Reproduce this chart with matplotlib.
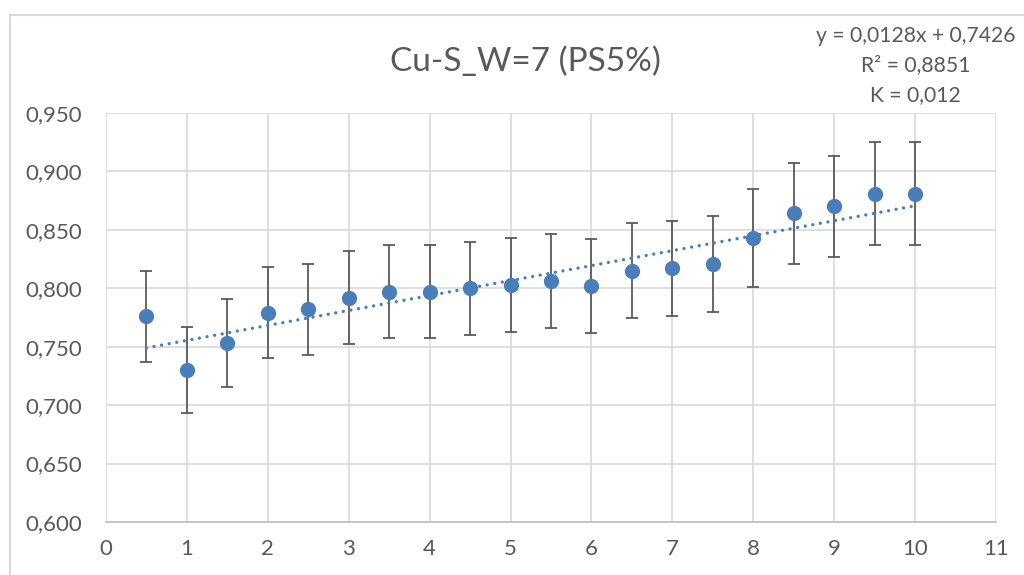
import numpy as np
import matplotlib.pyplot as plt
from matplotlib.patches import Rectangle
from matplotlib.ticker import FuncFormatter

plt.rcParams['font.family'] = ['Lato', 'DejaVu Sans']

# measured points (PS5%)
x = [0.5, 1, 1.5, 2, 2.5, 3, 3.5, 4, 4.5, 5, 5.5, 6, 6.5, 7, 7.5, 8, 8.5, 9, 9.5, 10]
y = [0.776, 0.730, 0.753, 0.779, 0.782, 0.792, 0.797, 0.797, 0.800, 0.803,
     0.806, 0.802, 0.815, 0.817, 0.821, 0.843, 0.864, 0.870, 0.881, 0.881]
err_pct = 0.05  # percentage error bars

# linear trendline
slope = 0.0128
intercept = 0.7426
r2 = 0.8851
K = 0.012

title = 'Cu-S_W=7 (PS5%)'
txtc = '#595959'
blue = '#4a7ebb'
gridc = '#d9d9d9'

x = np.array(x)
y = np.array(y)

fig = plt.figure(figsize=(10.24, 5.75), dpi=100)
ax = fig.add_axes([0.1035, 0.0922, 0.8692, 0.7113])

ax.errorbar(x, y, yerr=y * err_pct, fmt='none', ecolor='#5a5a5a',
            elinewidth=1.3, capsize=4.5, capthick=1.3, zorder=3)
xt = np.array([x.min(), x.max()])
ax.plot(xt, slope * xt + intercept, color=blue, lw=2.4,
        linestyle=(0, (0.01, 2.3)), dash_capstyle='round', zorder=4)
ax.plot(x, y, 'o', color=blue, ms=11, markeredgewidth=0, zorder=5)

ax.set_xlim(0, 11)
ax.set_ylim(0.6, 0.95)
ax.set_xticks(range(0, 12))
ax.set_yticks(np.arange(0.6, 0.951, 0.05))
ax.yaxis.set_major_formatter(FuncFormatter(lambda v, p: f'{v:.3f}'.replace('.', ',')))
ax.grid(True, color=gridc, lw=1.2)
ax.set_axisbelow(True)
for s in ['top', 'right', 'left']:
    ax.spines[s].set_visible(False)
ax.spines['bottom'].set_color('#bfbfbf')
ax.spines['bottom'].set_linewidth(1.2)
ax.tick_params(length=0, labelsize=16, labelcolor=txtc, pad=12.5)
ax.tick_params(axis='y', pad=17.5)

fig.text(0.513, 0.893, title, ha='center', va='center', fontsize=24, color=txtc)
eq = (f'y = {slope:.4f}x + {intercept:.4f}'.replace('.', ',') + '\n'
      + f'R² = {r2:.4f}'.replace('.', ',') + '\n'
      + f'K = {K:.3f}'.replace('.', ','))
fig.text(0.894, 0.886, eq, ha='center', va='center', fontsize=15.2,
         color=txtc, linespacing=1.6)

# chart area border
fig.patches.append(Rectangle((10 / 1024, -0.5), 1.5, 0.5 + 1 - 15 / 575,
                             transform=fig.transFigure, fill=False,
                             edgecolor=gridc, lw=1.5))

fig.savefig('out.png', dpi=100)
